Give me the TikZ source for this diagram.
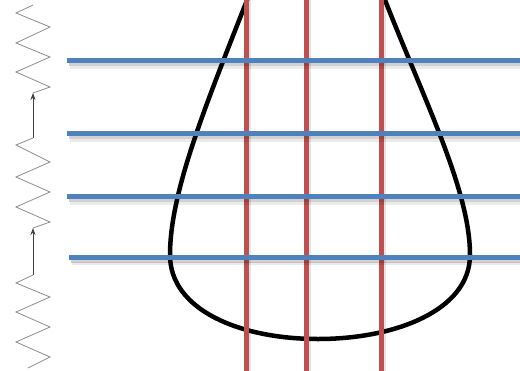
\documentclass[tikz,border=0pt]{standalone}
\usetikzlibrary{arrows.meta}
\definecolor{bluebar}{HTML}{4F81BD}
\definecolor{redbar}{HTML}{C0504D}
\definecolor{zig}{HTML}{8C8C8C}
\definecolor{arr}{HTML}{404040}
\tikzset{
  hbar/.style={bluebar, line width=5pt},
  vbar/.style={redbar, line width=4.6pt},
  hshadow/.style={black, opacity=0.18, line width=3pt},
  vshadow/.style={black, opacity=0.10, line width=2pt},
  outline/.style={black, line width=4.5pt},
  zigline/.style={zig, line width=0.8pt, line join=miter},
  uparrow/.style={arr, line width=0.8pt, -{Stealth[length=7pt,width=5pt]}}
}
\begin{document}
\begin{tikzpicture}[x=1pt,y=-1pt]
\useasboundingbox (0,0) rectangle (520,370);
\begin{scope}
\clip (0,0) rectangle (520,370);
% teardrop outline
\draw[outline] (249,-5) .. controls (208,100) and (170,190) .. (170,255)
  .. controls (170,310) and (240,339) .. (318,339)
  .. controls (396,339) and (470,310) .. (470,255)
  .. controls (470,190) and (424,100) .. (383,-5);
% red vertical bars with faint shadow
\foreach \x in {246.5,306.7,381.5}{
  \draw[vshadow] (\x+3.2,-5) -- (\x+3.2,375);
  \draw[vbar] (\x,-5) -- (\x,375);
}
% blue horizontal bars with shadow
\foreach \y/\xs in {60.5/67,133.5/67,196.5/67,257/69}{
  \draw[hshadow] (\xs+2,\y+4) -- (525,\y+4);
  \draw[black, opacity=0.08, line width=3pt] (\xs+3,\y+6.5) -- (525,\y+6.5);
  \draw[hbar] (\xs,\y) -- (525,\y);
}
% zigzags
\draw[zigline] (33,5) -- (16,13) -- (50,27) -- (16,43) -- (50,57) -- (16,72) -- (50,87) -- (33,93) coordinate (z1b);
\draw[zigline] (33,138) coordinate (z2t) -- (16,145) -- (50,162) -- (16,177) -- (50,192) -- (16,207) -- (50,222) -- (33,228) coordinate (z2b);
\draw[zigline] (33,275) coordinate (z3t) -- (16,283) -- (50,297) -- (16,312) -- (50,327) -- (16,342) -- (50,357) -- (28,368);
\draw[uparrow] (z2t) -- (z1b);
\draw[uparrow] (z3t) -- (z2b);
\end{scope}
\end{tikzpicture}
\end{document}
